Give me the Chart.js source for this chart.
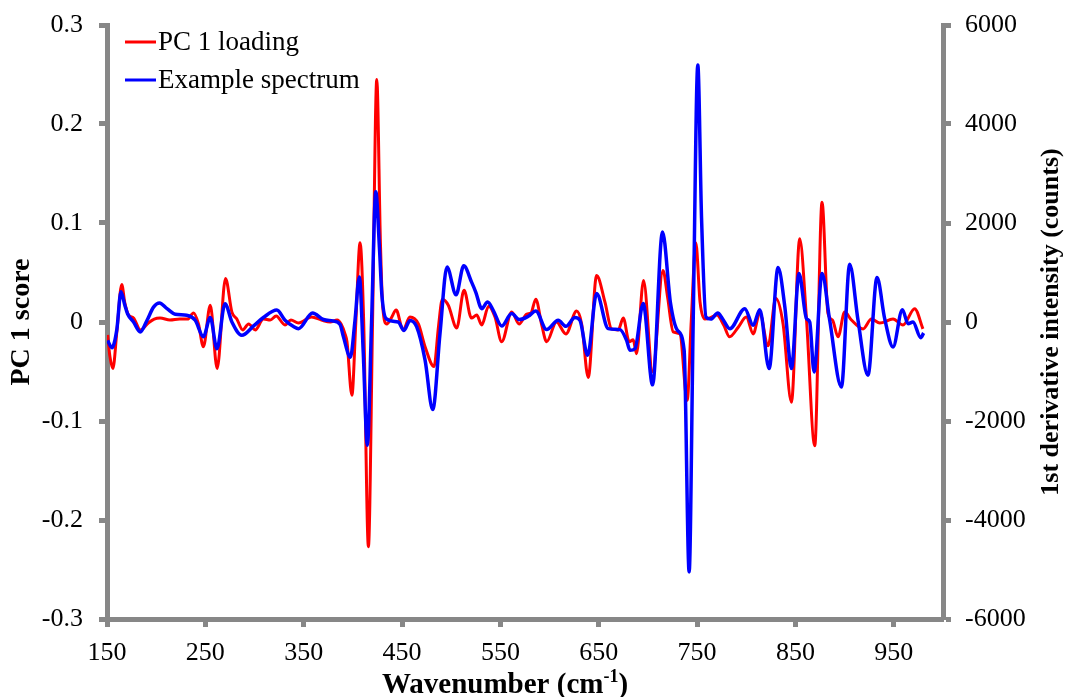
<!DOCTYPE html>
<html>
<head>
<meta charset="utf-8">
<title>PC 1 loading and example spectrum</title>
<script src="https://cdn.jsdelivr.net/npm/chart.js@4.4.1/dist/chart.umd.min.js"></script>
<style>
  html, body { margin: 0; padding: 0; background: #ffffff; }
  #wrap { width: 1066px; height: 697px; position: relative; }
</style>
</head>
<body>
<div id="wrap"><canvas id="chart" width="1066" height="697"></canvas></div>
<script>
// Axis tick values
const wavenumberTicks = [150, 250, 350, 450, 550, 650, 750, 850, 950];
const scoreTicks = [-0.3, -0.2, -0.1, 0, 0.1, 0.2, 0.3];
const countTicks = [-6000, -4000, -2000, 0, 2000, 4000, 6000];

// PC 1 loading (left axis)
const loadingWavenumber = [
  150.6, 153, 156, 160, 165, 168, 172, 177, 184, 192, 198, 204, 214, 224, 232, 238, 243, 248,
  255, 262, 270.5, 277, 282, 288, 294, 300.7, 309, 316, 322, 331, 337, 344.7, 358, 368, 377,
  384, 388, 392, 394, 399, 403, 407.3, 411, 415.8, 420, 424.3, 428, 430.4, 434.5, 439, 444,
  451, 458, 466.6, 473.4, 482.5, 487, 491, 497, 505.6, 513, 520.5, 525.9, 531, 538, 544.5,
  551.3, 561.5, 569, 576.7, 581, 586, 592, 597, 607, 616.6, 627.5, 632.6, 639.3, 647.8, 656.3,
  663, 669.8, 674.9, 681, 685, 688.4, 695.5, 704.7, 715.3, 720, 725.7, 732.5, 739.9, 744,
  748.7, 753, 757.8, 763, 770, 777, 783, 792, 800, 807, 813.7, 822.2, 830, 837.4, 845.9,
  854.3, 861.2, 869.6, 877, 883, 887.6, 893.3, 900, 906.9, 918.7, 927.2, 935.7, 949.2, 959.3,
  971.2, 979.6
];
const loadingScore = [
  -0.013, -0.035, -0.047, -0.010, 0.038, 0.020, 0.007, 0.004, -0.008, -0.001, 0.003, 0.004, 0.002, 0.003, 0.003, 0.009, -0.002, -0.025,
  0.017, -0.047, 0.044, 0.010, 0.003, -0.008, -0.002, -0.008, 0.003, 0.002, 0.006, -0.003, 0.002, -0.001, 0.005, 0.002, 0.000,
  0.002, -0.002, -0.012, -0.020, -0.074, 0.000, 0.080, 0.000, -0.227, 0.000, 0.245, 0.080, 0.015, -0.002, 0.004, 0.012,
  -0.008, 0.005, -0.002, -0.025, -0.045, -0.005, 0.023, 0.017, -0.006, 0.032, 0.004, 0.007, -0.003, 0.016, 0.005,
  -0.020, 0.010, -0.002, 0.008, 0.009, 0.023, -0.003, -0.020, 0.000, -0.012, 0.011, -0.002, -0.056, 0.047, 0.020,
  -0.007, -0.008, 0.004, -0.020, -0.018, -0.032, 0.042, -0.050, 0.052, 0.025, -0.010, -0.012, -0.079, 0.000,
  0.080, 0.020, 0.003, 0.004, 0.007, -0.003, -0.015, -0.005, 0.005, -0.012, 0.009, -0.024, 0.024, -0.002, -0.081,
  0.084, 0.003, -0.125, 0.121, 0.009, 0.002, -0.015, 0.010, 0.002, -0.007, 0.003, -0.001, 0.003, -0.003,
  0.0135, -0.007
];

// Example spectrum, 1st derivative intensity (right axis)
const spectrumWavenumber = [
  150.6, 155, 160, 164.2, 168, 171, 177, 183.8, 190.6, 197.3, 203.4, 211, 219.4, 231, 239.7, 248,
  255, 261.8, 270, 277, 287, 299, 309, 322.7, 331, 339.6, 344.7, 359, 370, 380, 387, 390.4,
  397.5, 402, 406.6, 410.5, 414.7, 419, 423.3, 427, 429.4, 433.8, 446, 452, 458, 464.9, 473.4,
  481.2, 488.6, 495.7, 504.9, 512.7, 520.8, 525, 531, 537, 542.7, 551.3, 561.5, 569.2, 578.3,
  586, 597, 608.8, 616.6, 625.8, 630.9, 638.7, 647.8, 659.6, 671.5, 678.3, 681.7, 686.8, 695.2,
  704.7, 714.8, 723, 730, 736.8, 741.9, 746, 750.7, 754.5, 759, 764, 771, 776, 783.3, 798.5, 807,
  813.7, 823.2, 832.3, 839.2, 845.9, 853.6, 861.2, 864.5, 868.9, 877, 884.8, 896.7, 905.1,
  913.6, 923.7, 932.9, 940.7, 949.2, 958.7, 964.4, 969.5, 977.3, 980.3
];
const spectrumCounts = [
  -370, -520, -150, 610, 350, 160, 0, -200, 30, 300, 385, 270, 155, 135, 35, -300,
  90, -540, 370, 0, -270, -80, 90, 240, 35, -90, -134, 180, 50, 20, -50, -300,
  -710, 0, 910, -600, -2490, 0, 2630, 1500, 570, 70, 0, -170, 30, -100, -770,
  -1770, -230, 1110, 550, 1135, 800, 600, 270, 404, 236, -81, 170, 48, 115,
  222, -154, 34, -87, 89, 34, -673, 574, -134, -154, -370, -572, -538, 372,
  -1270, 1818, 372, -168, -572, -5050, 0, 5190, 2100, 100, 60, 180, 60, -134, 270, -67,
  250, -941, 1099, 303, -941, 978, 69, 0, -1010, 978, 34, -1313, 1165,
  34, -1077, 897, 69, -505, 250, -33, 0, -316, -222
];

const AXIS_GRAY = '#878787';
const FONT_FAMILY = '"Liberation Serif", "Times New Roman", serif';
const FONT_SIZE = 26;

function pairs(xs, ys) {
  return xs.map((x, i) => ({ x: x, y: ys[i] }));
}

function fixedTicks(values) {
  return function (scale) {
    scale.ticks = values.map(v => ({ value: v }));
  };
}

// the vertical axes keep the plot area edges where the layout puts them
function verticalFit(width) {
  return function (scale) {
    scale.width = width;
    scale.paddingTop = 0;
    scale.paddingBottom = 0;
  };
}

// Legend and axis titles drawn as canvas text
const decorations = {
  id: 'decorations',
  afterDraw(chart) {
    const ctx = chart.ctx;
    const area = chart.chartArea;
    ctx.save();

    // legend
    ctx.font = '27px ' + FONT_FAMILY;
    ctx.textAlign = 'left';
    ctx.textBaseline = 'middle';
    chart.data.datasets.forEach((ds, i) => {
      const y = 42 + i * 38;
      ctx.strokeStyle = ds.borderColor;
      ctx.lineWidth = 3;
      ctx.beginPath();
      ctx.moveTo(125, y);
      ctx.lineTo(156, y);
      ctx.stroke();
      ctx.fillStyle = '#000000';
      ctx.fillText(ds.label, 158, y + 1);
    });

    // x axis title with superscript
    const xBold = 'bold 29px ' + FONT_FAMILY;
    const supFont = 'bold 18px ' + FONT_FAMILY;
    const part1 = 'Wavenumber (cm';
    const sup = '-1';
    const part3 = ')';
    ctx.font = xBold;
    const w1 = ctx.measureText(part1).width;
    const w3 = ctx.measureText(part3).width;
    ctx.font = supFont;
    const w2 = ctx.measureText(sup).width;
    let x = 505 - (w1 + w2 + w3) / 2;
    const yBase = 693;
    ctx.textBaseline = 'alphabetic';
    ctx.fillStyle = '#000000';
    ctx.font = xBold;
    ctx.fillText(part1, x, yBase);
    x += w1;
    ctx.font = supFont;
    ctx.fillText(sup, x, yBase - 11);
    x += w2;
    ctx.font = xBold;
    ctx.fillText(part3, x, yBase);

    // y axis titles, reading bottom to top
    const midY = (area.top + area.bottom) / 2;
    ctx.textAlign = 'center';
    ctx.textBaseline = 'middle';
    ctx.save();
    ctx.font = 'bold 28px ' + FONT_FAMILY;
    ctx.translate(22, midY);
    ctx.rotate(-Math.PI / 2);
    ctx.fillText('PC 1 score', 0, 0);
    ctx.restore();
    ctx.save();
    ctx.font = 'bold 26px ' + FONT_FAMILY;
    ctx.translate(1051, midY);
    ctx.rotate(-Math.PI / 2);
    ctx.fillText('1st derivative intensity (counts)', 0, 0);
    ctx.restore();

    ctx.restore();
  }
};

const tickFont = { family: FONT_FAMILY, size: FONT_SIZE };

new Chart(document.getElementById('chart'), {
  type: 'line',
  data: {
    datasets: [
      {
        label: 'PC 1 loading',
        data: pairs(loadingWavenumber, loadingScore),
        yAxisID: 'y',
        borderColor: '#ff0000',
        borderWidth: 3,
        pointRadius: 0,
        cubicInterpolationMode: 'monotone',
        order: 1
      },
      {
        label: 'Example spectrum',
        data: pairs(spectrumWavenumber, spectrumCounts),
        yAxisID: 'y2',
        borderColor: '#0000ff',
        borderWidth: 3.5,
        pointRadius: 0,
        cubicInterpolationMode: 'monotone',
        order: 0
      }
    ]
  },
  options: {
    responsive: false,
    animation: false,
    devicePixelRatio: 1,
    layout: { padding: { top: 25, left: 0, right: 0, bottom: 0 } },
    plugins: {
      legend: { display: false },
      tooltip: { enabled: false }
    },
    scales: {
      x: {
        type: 'linear',
        position: 'bottom',
        min: 150,
        max: 1000,
        afterBuildTicks: fixedTicks(wavenumberTicks),
        afterFit(scale) { scale.height = 78; },
        grid: {
          drawOnChartArea: false,
          drawTicks: true,
          tickLength: 8,
          tickWidth: 5,
          tickColor: AXIS_GRAY,
          color: AXIS_GRAY
        },
        border: { display: true, color: AXIS_GRAY, width: 5 },
        ticks: {
          font: tickFont,
          color: '#000000',
          padding: 11,
          maxRotation: 0,
          autoSkip: false,
          callback: v => String(v)
        }
      },
      y: {
        type: 'linear',
        position: 'left',
        min: -0.3,
        max: 0.3,
        afterBuildTicks: fixedTicks(scoreTicks),
        afterFit: verticalFit(107),
        grid: {
          drawOnChartArea: false,
          drawTicks: true,
          tickLength: 8,
          tickWidth: 5,
          tickColor: AXIS_GRAY,
          color: AXIS_GRAY
        },
        border: { display: true, color: AXIS_GRAY, width: 5 },
        ticks: {
          font: tickFont,
          color: '#000000',
          padding: 16,
          callback: v => String(Math.round(v * 10) / 10)
        }
      },
      y2: {
        type: 'linear',
        position: 'right',
        min: -6000,
        max: 6000,
        afterBuildTicks: fixedTicks(countTicks),
        afterFit: verticalFit(123),
        grid: {
          drawOnChartArea: false,
          drawTicks: true,
          tickLength: 8,
          tickWidth: 5,
          tickColor: AXIS_GRAY,
          color: AXIS_GRAY
        },
        border: { display: true, color: AXIS_GRAY, width: 5 },
        ticks: {
          font: tickFont,
          color: '#000000',
          padding: 14,
          callback: v => String(v)
        }
      }
    }
  },
  plugins: [decorations]
});
</script>
</body>
</html>
